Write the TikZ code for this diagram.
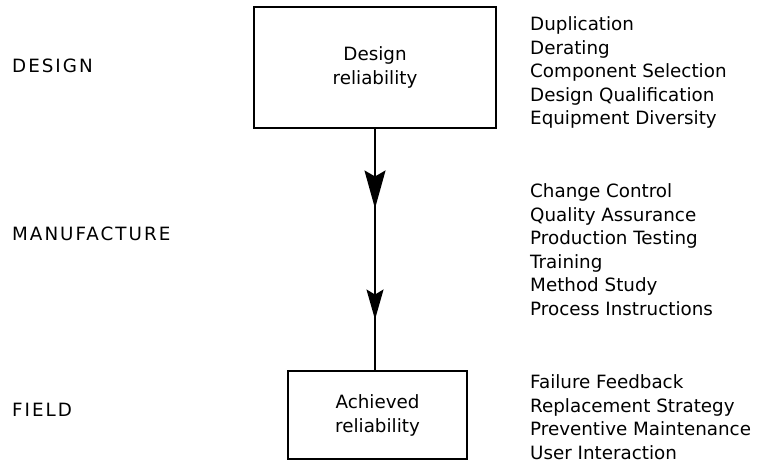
\documentclass[tikz,border=0pt]{standalone}
\usepackage{fontspec}
\setmainfont{DejaVu Sans}
\newfontfamily\capsfont[LetterSpace=11]{DejaVu Sans}
\usetikzlibrary{arrows.meta,decorations.markings}

\tikzset{
  stage/.style={draw, line width=1.6pt, align=center, inner sep=0pt,
    font=\fontsize{18.3}{24}\selectfont},
  phase/.style={anchor=west, inner sep=0pt, font=\capsfont\fontsize{18.3}{23.5}\selectfont},
  list/.style={anchor=north west, align=left, inner sep=0pt,
    font=\fontsize{18.3}{23.5}\selectfont},
  flow/.style={line width=1.8pt, postaction={decorate}, decoration={markings,
    mark=at position 0.33 with {\arrow{Stealth[length=38pt,width=21pt,inset=6pt]}},
    mark=at position 0.79 with {\arrow{Stealth[length=30pt,width=17pt,inset=5pt]}}}}
}

\begin{document}
\begin{tikzpicture}[x=1pt, y=-1pt]
  \useasboundingbox (0,0) rectangle (757,464);

  % the two boxes
  \node [stage, minimum width=242pt, minimum height=121pt] (des) at (375, 67.5) {Design\\reliability};
  \node [stage, minimum width=179pt, minimum height=88pt]  (ach) at (377.5, 415) {Achieved\\reliability};
  \draw [flow] (des.south) -- (des.south |- ach.north);

  % phases on the left
  \node [phase] (pdes) at (12, 66)  {DESIGN};
  \node [phase] (pman) at (12, 234) {MANUFACTURE};
  \node [phase] (pfld) at (12, 410) {FIELD};

  % measures on the right
  \node [list] (ldes) at (530, 16.5)  {Duplication\\Derating\\Component Selection\\Design Qualification\\Equipment Diversity};
  \node [list] (lman) at (530, 183.5) {Change Control\\Quality Assurance\\Production Testing\\Training\\Method Study\\Process Instructions};
  \node [list] (lfld) at (530, 374.5) {Failure Feedback\\Replacement Strategy\\Preventive Maintenance\\User Interaction};
\end{tikzpicture}
\end{document}
